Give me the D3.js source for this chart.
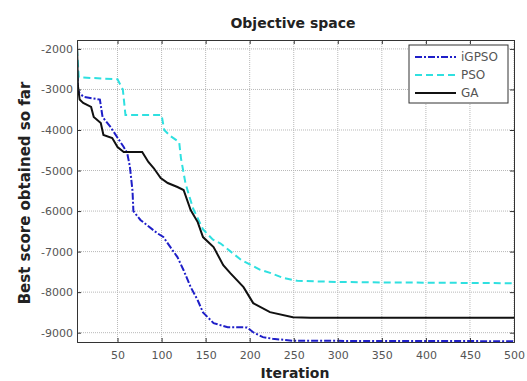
<!DOCTYPE html>
<html>
<head>
<meta charset="utf-8">
<script src="https://cdn.jsdelivr.net/npm/d3@7"></script>
<style>
  body { margin: 0; background: #fff; }
  svg { font-family: "DejaVu Sans", Verdana, sans-serif; }
</style>
</head>
<body>
<svg id="chart" width="527" height="381"></svg>
<script>
// values (iteration, best score)
let igpsoIter  = [4, 5, 7, 12, 30, 33, 42, 57, 61, 64, 67, 68, 76, 95, 102, 110, 118, 125, 133, 141, 147, 159, 175, 197, 204, 215, 226, 249, 500];
let igpsoScore = [-2300, -3000, -3100, -3185, -3250, -3680, -3925, -4420, -4570, -4900, -5500, -6000, -6220, -6545, -6640, -6890, -7135, -7460, -7875, -8200, -8500, -8765, -8865, -8870, -8990, -9110, -9150, -9200, -9210];

let psoIter  = [4, 6, 50, 56, 59, 100, 103, 110, 120, 122, 127, 131, 136, 147, 158, 167, 190, 212, 224, 238, 254, 300, 350, 500];
let psoScore = [-2000, -2700, -2750, -3000, -3630, -3630, -4000, -4150, -4300, -4700, -5300, -5600, -5950, -6450, -6700, -6800, -7200, -7450, -7530, -7650, -7720, -7750, -7760, -7780];

let gaIter  = [4, 5, 7, 11, 20, 23, 31, 34, 44, 50, 57, 78, 85, 91, 99, 107, 118, 125, 133, 141, 147, 159, 170, 178, 193, 204, 223, 249, 269, 500];
let gaScore = [-1800, -2900, -3250, -3333, -3432, -3679, -3827, -4123, -4197, -4420, -4543, -4543, -4790, -4938, -5185, -5308, -5407, -5481, -5975, -6271, -6642, -6889, -7333, -7530, -7876, -8271, -8494, -8617, -8630, -8630];

let xTicks = [50, 100, 150, 200, 250, 300, 350, 400, 450, 500];
let yTicks = [-9000, -8000, -7000, -6000, -5000, -4000, -3000, -2000];

let seriesNames = ['iGPSO', 'PSO', 'GA'];

let margin = {left: 77, right: 13, top: 40, bottom: 39};
let W = 527, H = 381;

let svg = d3.select('#chart');

let x = d3.scaleLinear().domain([4, 500]).range([margin.left, W - margin.right]);
let y = d3.scaleLinear().domain([-9230, -1780]).range([H - margin.bottom, margin.top]);

let series = [
    {name: seriesNames[0], iters: igpsoIter, scores: igpsoScore, color: '#1f1fc8', dash: '7,2,2,2'},
    {name: seriesNames[1], iters: psoIter, scores: psoScore, color: '#2fe0e0', dash: '7,4'},
    {name: seriesNames[2], iters: gaIter, scores: gaScore, color: '#111', dash: null}
];

// grid
let grid = svg.append('g').attr('class', 'grid');
grid.selectAll('.gx')
    .data(xTicks)
    .enter()
    .append('line')
    .attr('x1', d => x(d)).attr('x2', d => x(d))
    .attr('y1', y.range()[1]).attr('y2', y.range()[0])
    .attr('stroke', '#b8b8b8')
    .attr('stroke-dasharray', '1,1');
grid.selectAll('.gy')
    .data(yTicks)
    .enter()
    .append('line')
    .attr('x1', x.range()[0]).attr('x2', x.range()[1])
    .attr('y1', d => y(d)).attr('y2', d => y(d))
    .attr('stroke', '#b8b8b8')
    .attr('stroke-dasharray', '1,1');

svg.append('clipPath').attr('id', 'plotclip')
    .append('rect')
    .attr('x', x.range()[0]).attr('y', y.range()[1])
    .attr('width', x.range()[1] - x.range()[0])
    .attr('height', y.range()[0] - y.range()[1]);

let line = d3.line()
    .x(d => x(d[0]))
    .y(d => y(d[1]));

svg.append('g')
    .attr('clip-path', 'url(#plotclip)')
    .selectAll('path')
    .data(series)
    .enter()
    .append('path')
    .attr('d', s => line(d3.zip(s.iters, s.scores)))
    .attr('fill', 'none')
    .attr('stroke', s => s.color)
    .attr('stroke-width', 2)
    .attr('stroke-dasharray', s => s.dash);

// axes, MATLAB style ticks pointing inward
let axisB = d3.axisBottom(x).tickValues(xTicks).tickSize(-4).tickPadding(9);
let axisL = d3.axisLeft(y).tickValues(yTicks).tickSize(-4).tickPadding(4).tickFormat(d => String(d));
let axisT = d3.axisTop(x).tickValues(xTicks).tickSize(-4).tickFormat('');
let axisR = d3.axisRight(y).tickValues(yTicks).tickSize(-4).tickFormat('');

let styleAxis = g => {
    g.select('.domain').attr('stroke', '#333');
    g.selectAll('.tick line').attr('stroke', '#333');
    g.selectAll('text').attr('fill', '#555').style('font-size', '11px').style('font-family', '"DejaVu Sans"');
};

svg.append('g').attr('transform', `translate(0,${y.range()[0]})`).call(axisB).call(styleAxis);
svg.append('g').attr('transform', `translate(${x.range()[0]},0)`).call(axisL).call(styleAxis);
svg.append('g').attr('transform', `translate(0,${y.range()[1]})`).call(axisT).call(styleAxis);
svg.append('g').attr('transform', `translate(${x.range()[1]},0)`).call(axisR).call(styleAxis);

// titles
svg.append('text')
    .attr('x', 293).attr('y', 28)
    .attr('text-anchor', 'middle')
    .style('font-weight', 'bold').style('font-size', '14px')
    .attr('fill', '#222')
    .text('Objective space');

svg.append('text')
    .attr('x', 295).attr('y', 378)
    .attr('text-anchor', 'middle')
    .style('font-weight', 'bold').style('font-size', '14px')
    .attr('fill', '#222')
    .text('Iteration');

svg.append('text')
    .attr('transform', `translate(30,${(y.range()[0] + y.range()[1]) / 2 + 2}) rotate(-90)`)
    .attr('text-anchor', 'middle')
    .style('font-weight', 'bold').style('font-size', '15px')
    .attr('fill', '#222')
    .text('Best score obtained so far');

// legend
let legend = svg.append('g').attr('transform', 'translate(409,45)');
legend.append('rect')
    .attr('width', 99).attr('height', 58)
    .attr('fill', '#fff').attr('stroke', '#333');

let entry = legend.selectAll('.entry')
    .data(series)
    .enter()
    .append('g')
    .attr('transform', (d, i) => `translate(0,${12 + i * 18})`);
entry.append('line')
    .attr('x1', 6).attr('x2', 47)
    .attr('stroke', d => d.color)
    .attr('stroke-width', 2)
    .attr('stroke-dasharray', d => d.dash);
entry.append('text')
    .attr('x', 52).attr('y', 4)
    .style('font-size', '12px').attr('fill', '#555')
    .text(d => d.name);
</script>
</body>
</html>
